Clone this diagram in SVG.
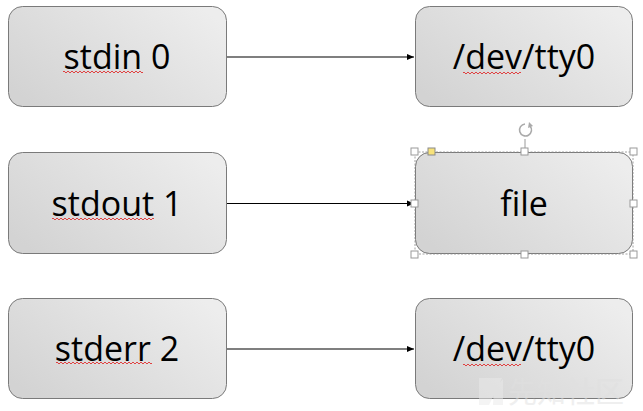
<svg xmlns="http://www.w3.org/2000/svg" width="643" height="411" viewBox="0 0 643 411">
<defs>
<linearGradient id="g" x1="0" y1="0.8" x2="1" y2="0.2">
<stop offset="0" stop-color="#d3d3d3"/>
<stop offset="1" stop-color="#ededed"/>
</linearGradient>
<marker id="ah" markerWidth="8" markerHeight="8" refX="7" refY="4" orient="auto" markerUnits="userSpaceOnUse">
<path d="M0,1 L7,4 L0,7 Z" fill="#000"/>
</marker>
</defs>
<style>
.box{fill:url(#g);stroke:#7a7a7a;stroke-width:1}
.t{font-family:"Open Sans","Liberation Sans",sans-serif;font-size:34px;fill:#000;text-anchor:middle}
.edge{stroke:#000;stroke-width:1.2;fill:none;marker-end:url(#ah)}
.sq{stroke:#e03030;stroke-width:0.9;fill:none}
.h{fill:#fff;stroke:#9a9a9a;stroke-width:1}
</style>
<rect width="643" height="411" fill="#fff"/>
<g id="connectors">
<line class="edge" x1="227" y1="57" x2="414" y2="57"/>
<line class="edge" x1="227" y1="203.5" x2="414" y2="203.5"/>
<line class="edge" x1="227" y1="349" x2="414" y2="349"/>
</g>
<g id="stdin">
<rect class="box" x="8.5" y="6.5" width="218" height="100" rx="14"/>
<text class="t" x="117" y="69">stdin 0</text>
<path class="sq" d="M63,72 q1,-2 2,0 t2,0 t2,0 t2,0 t2,0 t2,0 t2,0 t2,0 t2,0 t2,0 t2,0 t2,0 t2,0 t2,0 t2,0 t2,0 t2,0 t2,0 t2,0 t2,0 t2,0 t2,0 t2,0 t2,0 t2,0 t2,0 t2,0 t2,0 t2,0 t2,0 t2,0 t2,0 t2,0 t2,0 t2,0 t2,0 t2,0 t2,0 t2,0 t2,0"/>
</g>
<g id="stdout">
<rect class="box" x="8.5" y="152.5" width="218" height="101" rx="14"/>
<text class="t" x="117" y="216">stdout 1</text>
<path class="sq" d="M52,219 q1,-2 2,0 t2,0 t2,0 t2,0 t2,0 t2,0 t2,0 t2,0 t2,0 t2,0 t2,0 t2,0 t2,0 t2,0 t2,0 t2,0 t2,0 t2,0 t2,0 t2,0 t2,0 t2,0 t2,0 t2,0 t2,0 t2,0 t2,0 t2,0 t2,0 t2,0 t2,0 t2,0 t2,0 t2,0 t2,0 t2,0 t2,0 t2,0 t2,0 t2,0 t2,0 t2,0 t2,0 t2,0 t2,0 t2,0 t2,0 t2,0 t2,0 t2,0 t2,0"/>
</g>
<g id="stderr">
<rect class="box" x="8.5" y="298.5" width="218" height="100" rx="14"/>
<text class="t" x="117" y="361">stderr 2</text>
<path class="sq" d="M56,363 q1,-2 2,0 t2,0 t2,0 t2,0 t2,0 t2,0 t2,0 t2,0 t2,0 t2,0 t2,0 t2,0 t2,0 t2,0 t2,0 t2,0 t2,0 t2,0 t2,0 t2,0 t2,0 t2,0 t2,0 t2,0 t2,0 t2,0 t2,0 t2,0 t2,0 t2,0 t2,0 t2,0 t2,0 t2,0 t2,0 t2,0 t2,0 t2,0 t2,0 t2,0 t2,0 t2,0 t2,0 t2,0 t2,0 t2,0 t2,0 t2,0"/>
</g>
<g id="tty0a">
<rect class="box" x="415.5" y="6.5" width="217" height="100" rx="14"/>
<text class="t" x="524" y="69">/dev/tty0</text>
<path class="sq" d="M463,73 q1,-2 2,0 t2,0 t2,0 t2,0 t2,0 t2,0 t2,0 t2,0 t2,0 t2,0 t2,0 t2,0 t2,0 t2,0 t2,0 t2,0 t2,0 t2,0 t2,0 t2,0 t2,0 t2,0 t2,0 t2,0 t2,0 t2,0 t2,0 t2,0 t2,0"/>
</g>
<g id="file">
<rect class="box" x="415.5" y="152.5" width="217" height="101" rx="14"/>
<text class="t" x="524" y="216">file</text>
<rect x="415" y="152" width="218" height="102" fill="none" stroke="#8a8a8a" stroke-width="0.8" stroke-dasharray="2,1.5"/>
<line x1="525" y1="139" x2="525" y2="149" stroke="#9a9a9a" stroke-width="1"/>
<path d="M530,126 A6,6 0 1 1 525,124" fill="none" stroke="#aaa" stroke-width="1.6"/>
<path d="M529,122 L533,126 L528,128 Z" fill="#aaa"/>
<rect class="h" x="411" y="148" width="7" height="7"/>
<rect class="h" x="521" y="148" width="7" height="7"/>
<rect class="h" x="630" y="148" width="7" height="7"/>
<rect class="h" x="411" y="200" width="7" height="7"/>
<rect class="h" x="630" y="200" width="7" height="7"/>
<rect class="h" x="411" y="251" width="7" height="7"/>
<rect class="h" x="521" y="251" width="7" height="7"/>
<rect class="h" x="630" y="251" width="7" height="7"/>
<rect x="428" y="148" width="7" height="7" fill="#f7e27a" stroke="#8a8a8a" stroke-width="1"/>
</g>
<g id="tty0b">
<rect class="box" x="415.5" y="298.5" width="217" height="100" rx="14"/>
<text class="t" x="524" y="361">/dev/tty0</text>
<path class="sq" d="M463,365 q1,-2 2,0 t2,0 t2,0 t2,0 t2,0 t2,0 t2,0 t2,0 t2,0 t2,0 t2,0 t2,0 t2,0 t2,0 t2,0 t2,0 t2,0 t2,0 t2,0 t2,0 t2,0 t2,0 t2,0 t2,0 t2,0 t2,0 t2,0 t2,0 t2,0"/>
</g>
<g id="watermark" opacity="0.5">
<path d="M479,378 L502,378 L489,405 L479,405 Z M494,389 L503,379 L503,405 L493,405 Z" fill="#eaeaea"/>
<text x="508" y="403" font-family="'Noto Sans CJK SC',sans-serif" font-size="29" fill="#e0e0e0">先知社区</text>
</g>
</svg>
